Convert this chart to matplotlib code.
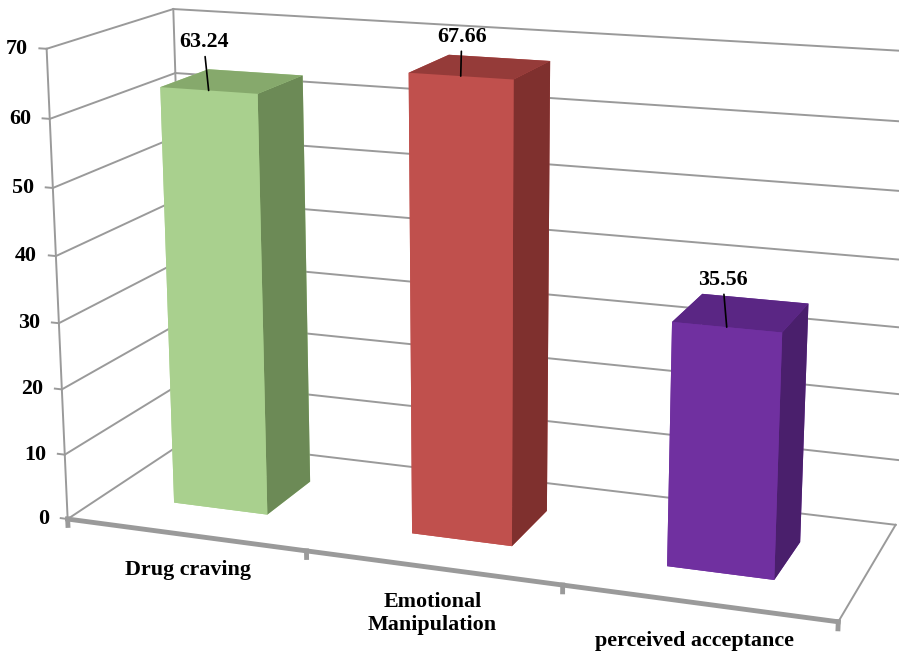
import numpy as np
import matplotlib.pyplot as plt
from mpl_toolkits.mplot3d import proj3d

# bar data
categories = ["Drug craving", "Emotional\nManipulation", "perceived acceptance"]
values = [63.24, 67.66, 35.56]
z_ticks = [0, 10, 20, 30, 40, 50, 60, 70]

front_colors = ["#A9D08E", "#C0504D", "#7030A0"]
side_colors = ["#6C8A56", "#7F302E", "#4A1F6C"]
top_colors = ["#86A96C", "#953B39", "#5A2684"]

plt.rcParams['font.family'] = ['Liberation Serif', 'DejaVu Serif']
plt.rcParams['font.weight'] = 'bold'

fig = plt.figure(figsize=(8.99, 6.51), dpi=100)
# the 3d axes is squared inside this rect, so shift it a little up/right
ax = fig.add_axes([0.0245, 0.038, 1, 1], projection='3d')
ax.set_proj_type('persp', focal_length=0.72)
ax.view_init(elev=15, azim=-70)
ax.set_box_aspect((2.93, 1.0, 1.78), zoom=1.46)
ax.set_axis_off()
ax.computed_zorder = False

n = len(categories)
x0, x1 = 0, n
y0, y1 = 0, 1
ax.set_xlim(x0, x1)
ax.set_ylim(y0, y1)
ax.set_zlim(0, z_ticks[-1])

M = ax.get_proj()


def to2d(x, y, z):
    px, py, _ = proj3d.proj_transform(x, y, z, M)
    return float(px), float(py)


fs = 15.8
grid_kw = dict(color='#9a9a9a', lw=1.4, zorder=1, clip_on=False)

# gridlines on the back wall and the left wall, value ticks
for v in z_ticks:
    ax.plot([x0, x1], [y1, y1], [v, v], **grid_kw)
    ax.plot([x0, x0], [y0, y1], [v, v], **grid_kw)
    ax.plot([x0 - 0.03, x0], [y0, y0], [v, v], **grid_kw)
    ax.annotate(str(v), xy=to2d(x0, y0, v), xytext=(-13.5, 0),
                textcoords='offset points', ha='right', va='center',
                fontsize=fs, annotation_clip=False)

ax.plot([x0, x0], [y1, y1], [0, z_ticks[-1]], **grid_kw)
ax.plot([x0, x0], [y0, y0], [0, z_ticks[-1]], **grid_kw)
ax.plot([x1, x1], [y0, y1], [0, 0], **grid_kw)

# front category axis
ax.plot([x0, x1], [y0, y0], [0, 0], color='#9a9a9a', lw=3.5, zorder=1,
        clip_on=False)
for k in range(n + 1):
    ax.plot([k, k], [y0, y0], [0, -1.0], color='#9a9a9a', lw=3.5, zorder=1,
            clip_on=False)

# bars
w, d = 0.4, 0.4
xs = np.arange(n) + 0.5 - w / 2
ys = np.full(n, 0.5 - d / 2)
face_colors = []
for f, s, t in zip(front_colors, side_colors, top_colors):
    # -z, +z, -y, +y, -x, +x
    face_colors += [f, t, f, f, f, s]
ax.bar3d(xs, ys, np.zeros(n), w, d, values, color=face_colors,
         shade=False, zorder=2, clip_on=False)

# value labels with leader lines to the top front edge
label_off = [(-5, 48), (1, 39), (-4, 47)]
for i, v in enumerate(values):
    anchor = to2d(i + 0.5, 0.5 - d / 2, v)
    ax.annotate(f'{v:.2f}', xy=anchor, xytext=label_off[i],
                textcoords='offset pixels', ha='center', va='center',
                fontsize=fs, zorder=5, annotation_clip=False,
                arrowprops=dict(arrowstyle='-', color='black', lw=1.2,
                                shrinkA=1, shrinkB=0))

# category labels under the front axis
cat_off = [(3, -35), (0, -46), (-3, -38)]
for i, name in enumerate(categories):
    ax.annotate(name, xy=to2d(i + 0.5, y0, 0), xytext=cat_off[i],
                textcoords='offset pixels', ha='center', va='center',
                fontsize=fs, linespacing=1.2, zorder=5,
                annotation_clip=False)

fig.savefig('out.png', dpi=100)
